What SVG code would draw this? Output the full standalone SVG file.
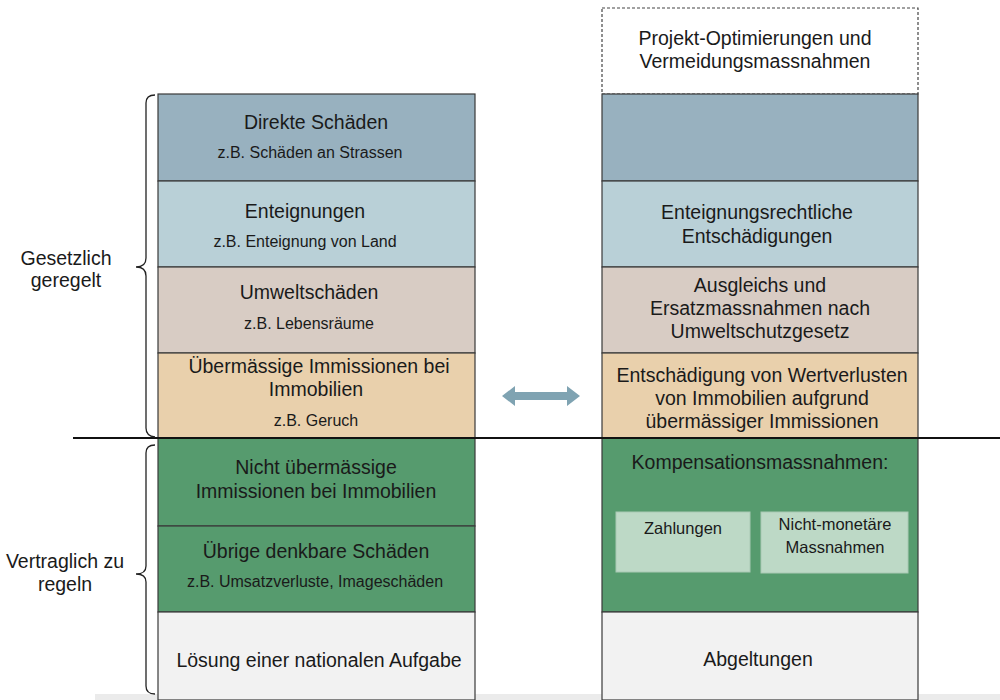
<svg xmlns="http://www.w3.org/2000/svg" width="1000" height="700" viewBox="0 0 1000 700">
<defs>
<style>
text{font-family:"Liberation Sans",Arial,sans-serif;fill:#1a1a1a;text-anchor:middle}
.m{font-size:19.5px}
.s{font-size:16px}
.i{font-size:16.5px}
.cell{stroke:#3a3a3a;stroke-width:1.2}
.brace{fill:none;stroke:#222;stroke-width:1.3}
</style>
</defs>
<rect x="0" y="0" width="1000" height="700" fill="#fff"/>
<rect x="95" y="694" width="905" height="6" fill="#ebebeb"/>
<g id="left-col">
<g id="direkte"><rect class="cell" x="158" y="94" width="317" height="87" fill="#98b1bf"/>
<text class="m" x="316" y="129">Direkte Schäden</text><text class="s" x="310" y="158">z.B. Schäden an Strassen</text></g>
<g id="enteignungen"><rect class="cell" x="158" y="181" width="317" height="86" fill="#b9d0d7"/>
<text class="m" x="305" y="218">Enteignungen</text><text class="s" x="305" y="247">z.B. Enteignung von Land</text></g>
<g id="umwelt"><rect class="cell" x="158" y="267" width="317" height="86" fill="#d8ccc4"/>
<text class="m" x="309" y="299">Umweltschäden</text><text class="s" x="309" y="329">z.B. Lebensräume</text></g>
<g id="uebermaessig"><rect class="cell" x="158" y="353" width="317" height="85" fill="#e9d0ac"/>
<text class="m" x="319" y="373">Übermässige Immissionen bei</text><text class="m" x="316" y="396">Immobilien</text><text class="s" x="316" y="426">z.B. Geruch</text></g>
<g id="nicht-uebermaessig"><rect class="cell" x="158" y="438" width="317" height="88" fill="#569b6e"/>
<text class="m" x="316" y="474">Nicht übermässige</text><text class="m" x="316" y="498">Immissionen bei Immobilien</text></g>
<g id="uebrige"><rect class="cell" x="158" y="526" width="317" height="86" fill="#569b6e"/>
<text class="m" x="316" y="558">Übrige denkbare Schäden</text><text class="s" x="315" y="587">z.B. Umsatzverluste, Imageschäden</text></g>
<g id="loesung"><rect class="cell" x="158" y="612" width="317" height="88" fill="#f2f2f2"/>
<text class="m" x="319" y="667">Lösung einer nationalen Aufgabe</text></g>
</g>
<g id="right-col">
<g id="projekt"><rect x="602" y="8" width="316" height="86" fill="#fff" stroke="#444" stroke-width="1.2" stroke-dasharray="3,2"/>
<text class="m" x="755" y="45">Projekt-Optimierungen und</text><text class="m" x="755" y="68">Vermeidungsmassnahmen</text></g>
<g id="r-direkte"><rect class="cell" x="602" y="94" width="316" height="87" fill="#98b1bf"/></g>
<g id="r-enteignung"><rect class="cell" x="602" y="181" width="316" height="86" fill="#b9d0d7"/>
<text class="m" x="757" y="219">Enteignungsrechtliche</text><text class="m" x="757" y="243">Entschädigungen</text></g>
<g id="r-umwelt"><rect class="cell" x="602" y="267" width="316" height="86" fill="#d8ccc4"/>
<text class="m" x="760" y="292">Ausgleichs und</text><text class="m" x="760" y="315">Ersatzmassnahmen nach</text><text class="m" x="760" y="338">Umweltschutzgesetz</text></g>
<g id="r-entschaedigung"><rect class="cell" x="602" y="353" width="316" height="85" fill="#e9d0ac"/>
<text class="m" x="762" y="382">Entschädigung von Wertverlusten</text><text class="m" x="762" y="405">von Immobilien aufgrund</text><text class="m" x="762" y="428">übermässiger Immissionen</text></g>
<g id="r-kompensation"><rect class="cell" x="602" y="438" width="316" height="174" fill="#569b6e"/>
<text class="m" x="760" y="469">Kompensationsmassnahmen:</text></g>
<g id="zahlungen"><rect x="616" y="512" width="134" height="60" fill="#bdd9c6" stroke="#a9c9b4" stroke-width="1"/>
<text class="i" x="683" y="534">Zahlungen</text></g>
<g id="nichtmonetaer"><rect x="761" y="512" width="147" height="61" fill="#bdd9c6" stroke="#a9c9b4" stroke-width="1"/>
<text class="i" x="835" y="530">Nicht-monetäre</text><text class="i" x="835" y="553">Massnahmen</text></g>
<g id="abgeltungen"><rect class="cell" x="602" y="612" width="316" height="88" fill="#f2f2f2"/>
<text class="m" x="758" y="666">Abgeltungen</text></g>
</g>
<g id="labels">
<g id="gesetzlich"><text class="m" x="66" y="265">Gesetzlich</text><text class="m" x="66" y="287">geregelt</text></g>
<g id="vertraglich"><text class="m" x="65" y="568">Vertraglich zu</text><text class="m" x="65" y="591">regeln</text></g>
</g>
<g id="connectors">
<line x1="73" y1="438" x2="1000" y2="438" stroke="#111" stroke-width="2"/>
<path class="brace" d="M155,95 Q146,95 146,103 L146,258 Q146,267 136,267 Q146,267 146,276 L146,428 Q146,436 155,437"/>
<path class="brace" d="M155,445 Q146,445 146,453 L146,566 Q146,574 136,574 Q146,574 146,582 L146,686 Q146,694 155,694"/>
<path d="M502,396 L515,386 L515,392 L567,392 L567,386 L580,396 L567,406 L567,400 L515,400 L515,406 Z" fill="#7fa3b2"/>
</g>
</svg>
